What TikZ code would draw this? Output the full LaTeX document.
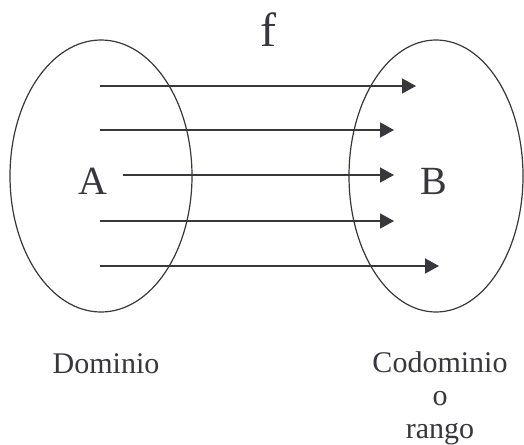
\documentclass[tikz,border=0pt]{standalone}
\usepackage{fontspec}
\setmainfont{Liberation Serif}
\usetikzlibrary{arrows.meta}
\definecolor{ink}{RGB}{55,55,60}
\begin{document}
\begin{tikzpicture}[x=1pt,y=-1pt,
  setline/.style={draw=ink,line width=1.2pt},
  maparrow/.style={draw=ink,line width=1.6pt,-{Triangle[length=14pt,width=15pt]}},
  bigletter/.style={text=ink,inner sep=0pt,anchor=base,font=\fontsize{40}{48}\selectfont},
  label/.style={text=ink,inner sep=0pt,anchor=base,font=\fontsize{30}{33}\selectfont}]
\useasboundingbox (0,0) rectangle (524,444);
\draw[setline] (101,176) ellipse [x radius=91, y radius=136];
\draw[setline] (436,176) ellipse [x radius=87, y radius=136];
\node[bigletter,font=\fontsize{48}{56}\selectfont] (f) at (268.5,47) {f};
\node[bigletter] (A) at (93,194) {A};
\node[bigletter] (B) at (433.5,194) {B};
\coordinate (s1) at (100,86);  \coordinate (t1) at (416,86);
\coordinate (s2) at (100,130); \coordinate (t2) at (394,130);
\coordinate (s3) at (123,175); \coordinate (t3) at (394,175);
\coordinate (s4) at (100,221); \coordinate (t4) at (394,221);
\coordinate (s5) at (100,266); \coordinate (t5) at (439,266);
\foreach \i in {1,...,5} {\draw[maparrow] (s\i) -- (t\i);}
\node[label] (dom) at (106,373) {Dominio};
\node[label] (cod) at (440,372) {Codominio};
\node[label] (o) at (440,405) {o};
\node[label] (rango) at (440,438) {rango};
\end{tikzpicture}
\end{document}
